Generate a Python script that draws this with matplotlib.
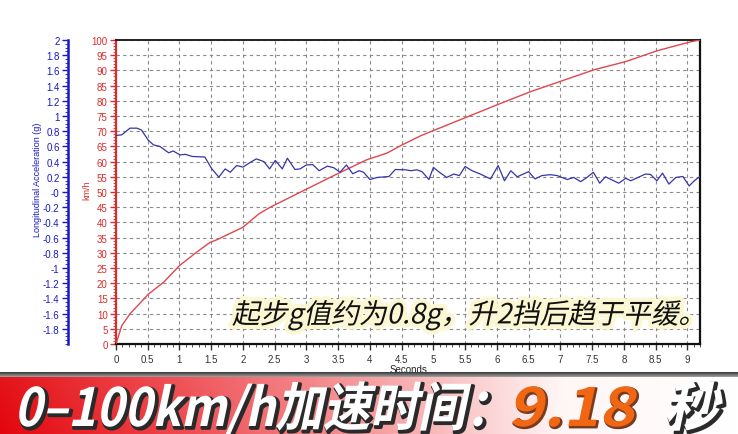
import numpy as np
import matplotlib
matplotlib.use("Agg")
import matplotlib.pyplot as plt
from matplotlib.colors import to_rgba
from matplotlib.patheffects import AbstractPathEffect
from matplotlib.ticker import MultipleLocator, FixedLocator, FormatStrFormatter
from matplotlib.transforms import Affine2D

plt.rcParams["axes.unicode_minus"] = False
plt.rcParams["font.family"] = ["Liberation Sans", "DejaVu Sans"]

# speed trace (km/h)
t_speed = [0, 0.09, 0.22, 0.51, 0.75, 1.0, 1.27, 1.48, 1.59, 2.0, 2.25, 2.43,
           2.9, 3.43, 3.95, 4.27, 4.48, 4.8, 5.0, 5.52, 6.03, 6.53, 7.03, 7.53,
           8.03, 8.53, 9.05, 9.2]
speed = [0, 6, 9.9, 16.4, 20.3, 25.8, 30.2, 33.4, 34.3, 38.4, 42.8, 45,
         49.9, 55.4, 60.6, 62.8, 65.2, 68.5, 70.2, 74.6, 78.9, 83, 86.6, 90.2,
         92.9, 96.5, 99.4, 100]

# longitudinal acceleration (g)
t_acc = [0, 0.09, 0.22, 0.33, 0.4, 0.51, 0.59, 0.69, 0.83, 0.9, 1.01, 1.09,
         1.2, 1.4, 1.51, 1.62, 1.72, 1.8, 1.9, 2.0, 2.12, 2.21, 2.33, 2.42,
         2.51, 2.62, 2.7, 2.82, 2.9, 3.0, 3.1, 3.2, 3.33, 3.43, 3.53, 3.63,
         3.73, 3.83, 3.9, 4.0, 4.12, 4.3, 4.4, 4.56, 4.65, 4.74, 4.82, 4.93,
         5.0, 5.1, 5.21, 5.32, 5.41, 5.5, 5.61, 5.74, 5.9, 6.02, 6.12, 6.22,
         6.32, 6.5, 6.6, 6.71, 6.84, 6.95, 7.11, 7.21, 7.32, 7.42, 7.52, 7.62,
         7.71, 7.92, 8.03, 8.11, 8.34, 8.42, 8.52, 8.61, 8.71, 8.82, 8.93, 9.03,
         9.11, 9.2]
acc = [0.744, 0.752, 0.84, 0.84, 0.816, 0.68, 0.62, 0.60, 0.516, 0.54, 0.488, 0.496,
       0.468, 0.46, 0.304, 0.196, 0.304, 0.26, 0.348, 0.328, 0.392, 0.436, 0.40, 0.304,
       0.416, 0.304, 0.444, 0.296, 0.304, 0.356, 0.36, 0.28, 0.34, 0.32, 0.26, 0.356,
       0.24, 0.28, 0.26, 0.164, 0.192, 0.204, 0.296, 0.292, 0.28, 0.292, 0.268, 0.164,
       0.324, 0.256, 0.192, 0.236, 0.216, 0.336, 0.28, 0.236, 0.172, 0.348, 0.148, 0.28,
       0.20, 0.268, 0.172, 0.216, 0.228, 0.216, 0.164, 0.192, 0.136, 0.192, 0.26, 0.116,
       0.20, 0.116, 0.18, 0.148, 0.236, 0.232, 0.148, 0.248, 0.104, 0.192, 0.204, 0.08,
       0.148, 0.204]

note = "起步g值约为0.8g，升2挡后趋于平缓。"
banner_left = "0–100km/h加速时间："
banner_time = "9.18"
banner_unit = "秒"


class Slant(AbstractPathEffect):
    # fake italic: shear (and rescale) the glyph outlines, optional recolour / stroke
    def __init__(self, offset=(0, 0), color=None, lw=0, skew=12, sx=1.0, sy=1.0):
        super().__init__(offset)
        self.color = None if color is None else to_rgba(color)
        self.lw = lw
        self.skew = skew
        self.sx = sx
        self.sy = sy

    def draw_path(self, renderer, gc, tpath, affine, rgbFace=None):
        gc0 = renderer.new_gc()
        gc0.copy_properties(gc)
        face = rgbFace
        if self.color is not None:
            face = self.color
            gc0.set_foreground(self.color)
        gc0.set_linewidth(self.lw)
        gc0.set_joinstyle("round")
        tr = (Affine2D().scale(self.sx, self.sy).skew_deg(self.skew, 0) + affine
              + self._offset_transform(renderer))
        renderer.draw_path(gc0, tpath, tr, face)
        gc0.restore()


W, H = 738, 435
fig = plt.figure(figsize=(W / 100, H / 100), dpi=100)

RED = "#dd2a2a"
BLUE = "#1818c8"

ax = fig.add_axes([116 / W, 90 / H, 584 / W, 304 / H])
ax.plot(t_speed, speed, color="#e0474c", lw=1.0, zorder=3)
ax.set_xlim(0, 9.2)
ax.set_ylim(0, 100)
ax.xaxis.set_major_locator(MultipleLocator(0.5))
ax.xaxis.set_minor_locator(MultipleLocator(0.1))
ax.xaxis.set_major_formatter(FormatStrFormatter("%g"))
ax.yaxis.set_major_locator(MultipleLocator(5))
ax.yaxis.set_minor_locator(MultipleLocator(1))
ax.grid(True, which="major", color="#8a8a8a", linestyle=(0, (3, 3)), lw=0.8)
ax.tick_params(axis="x", which="major", labelsize=7, colors="#333333",
               length=4, width=1, pad=3)
ax.tick_params(axis="x", which="minor", length=2, color="#333333")
ax.tick_params(axis="y", which="major", labelsize=7, colors=RED,
               length=4, width=1, pad=2)
ax.tick_params(axis="y", which="minor", length=2, color=RED)
ax.set_xlabel("Seconds", fontsize=7, color="#222222", labelpad=0)
for s in ["bottom", "right"]:
    ax.spines[s].set_color("#111111")
    ax.spines[s].set_linewidth(1.6)
ax.spines["top"].set_color("#222222")
ax.spines["top"].set_linestyle((0, (2, 1)))
ax.spines["top"].set_linewidth(1.4)
ax.spines["left"].set_color(RED)
ax.spines["left"].set_linewidth(1.6)

ax2 = ax.twinx()
ax2.plot(t_acc, acc, color="#3535a8", lw=0.9, zorder=3)
ax2.set_ylim(-2, 2)
ax2.yaxis.tick_left()
ax2.yaxis.set_label_position("left")
for s in ["right", "top", "bottom"]:
    ax2.spines[s].set_visible(False)
ax2.spines["left"].set_visible(True)
ax2.spines["left"].set_position(("axes", -48 / 584))
ax2.spines["left"].set_color(BLUE)
ax2.spines["left"].set_linewidth(1.8)
ax2.yaxis.set_major_locator(FixedLocator(np.round(np.arange(-1.8, 2.01, 0.2), 1)))
ax2.yaxis.set_minor_locator(MultipleLocator(0.05))
ax2.yaxis.set_major_formatter(FormatStrFormatter("%g"))
ax2.tick_params(axis="y", which="major", labelsize=7, colors=BLUE,
                length=4, width=1, pad=2)
ax2.tick_params(axis="y", which="minor", length=2, color=BLUE)

fig.text(37 / W, 1 - 180 / H, "Longitudinal Acceleration (g)", rotation=90,
         ha="center", va="center", fontsize=6.5, color=BLUE)
fig.text(87 / W, 1 - 190 / H, "km/h", rotation=90, ha="center", va="center",
         fontsize=6.5, color=RED)

# note over the plot
fig.text(232 / W, 1 - 316 / H, note, ha="left", va="center", fontsize=20,
         family=["Noto Sans CJK SC", "DejaVu Sans"], color="#111111",
         path_effects=[Slant(color="#fbf7d2", lw=6), Slant()])

# banner with red-to-white gradient
bx = fig.add_axes([0, 0, 1, 62 / H])
xs = np.linspace(0, 1, W)
stops = [0, 0.2, 0.5, 0.76, 1.0]
cols = np.array([[228, 22, 28], [238, 72, 78], [246, 160, 162], [255, 246, 246],
                 [255, 255, 255]]) / 255
row = np.stack([np.interp(xs, stops, cols[:, k]) for k in range(3)], axis=1)
grad = np.repeat(row[None, :, :], 62, axis=0)
shade = np.linspace(1.0, 0.93, 62)[:, None, None]
grad = np.clip(1 - (1 - grad) * (2 - shade), 0, 1)
border = np.linspace(0.25, 0.6, 5)
for i, b in enumerate(border):
    grad[i, :, :] = b
bx.imshow(grad, aspect="auto", extent=[0, 1, 0, 1], interpolation="bilinear")
bx.set_axis_off()

big = dict(family=["Noto Sans CJK SC", "DejaVu Sans"], weight="black",
           fontsize=36, va="baseline", ha="left")
sy = 1.055
fig.text(14 / W, 8 / H, banner_left, color="white",
         path_effects=[Slant(offset=(1.5, -1.5), color="#2a2a2a", lw=2.5, sx=0.95, sy=sy),
                       Slant(sx=0.95, sy=sy)], **big)
fig.text(508 / W, 8 / H, banner_time, color="#f06612",
         path_effects=[Slant(offset=(1, -1), color="#7a3a20", lw=1.5, sx=1.21, sy=sy),
                       Slant(sx=1.21, sy=sy)], **big)
fig.text(664 / W, 8 / H, banner_unit, color="white",
         path_effects=[Slant(offset=(1.5, -1.5), color="#2a2a2a", lw=2.5, sx=1.11, sy=sy),
                       Slant(sx=1.11, sy=sy)], **big)

fig.savefig("out.png", dpi=100)
